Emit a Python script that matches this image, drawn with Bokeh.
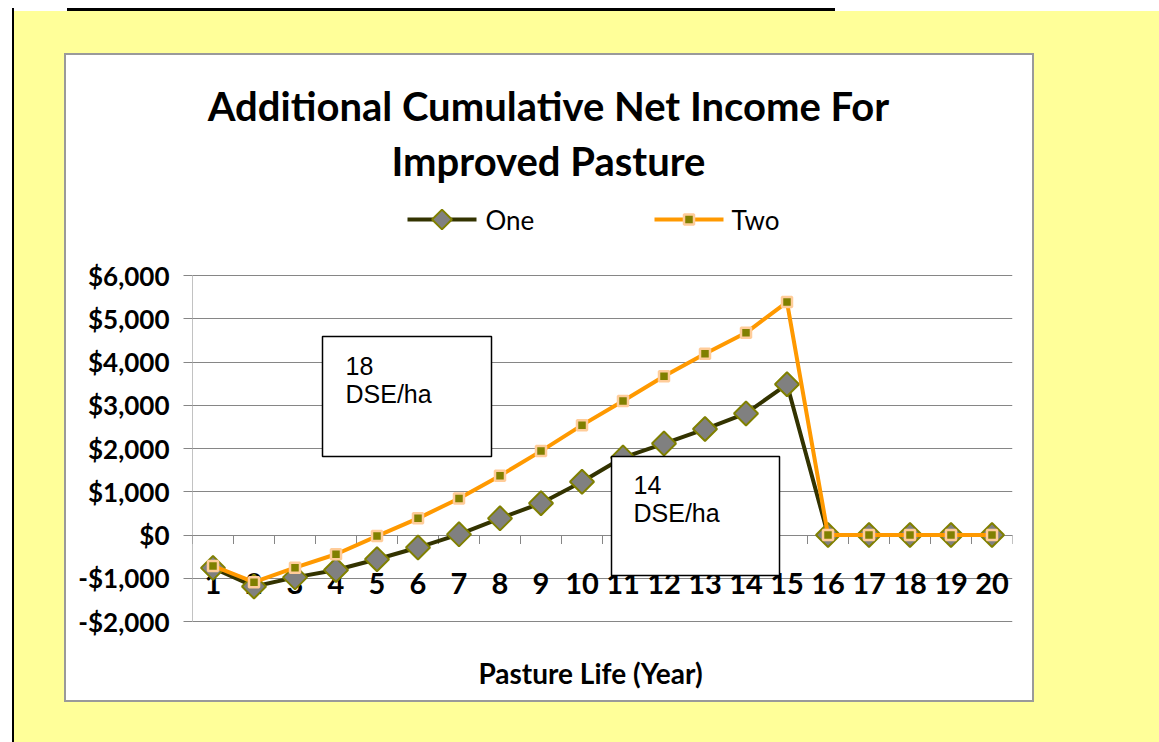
import math

from bokeh.plotting import figure
from bokeh.models import Range1d, FixedTicker, BoxAnnotation, Label
from bokeh.embed import file_html
from bokeh.resources import INLINE
from bokeh.core.properties import value

# ---- data -------------------------------------------------------------
years = list(range(1, 21))
one = [-760, -1190, -980, -810, -560, -290, 15, 385, 735, 1230,
       1790, 2115, 2450, 2810, 3485, 0, 0, 0, 0, 0]
two = [-715, -1090, -755, -445, -25, 385, 845, 1370, 1940, 2540,
       3100, 3670, 4190, 4675, 5385, 0, 0, 0, 0, 0]
y_ticks = [-2000, -1000, 0, 1000, 2000, 3000, 4000, 5000, 6000]
y_tick_labels = ["-$2,000", "-$1,000", "$0", "$1,000", "$2,000",
                 "$3,000", "$4,000", "$5,000", "$6,000"]
x_labels = [str(y) for y in years]
series_names = ["One", "Two"]
title_lines = ["Additional Cumulative Net Income For", "Improved Pasture"]
x_title = "Pasture Life (Year)"
notes = [("18", "DSE/ha"), ("14", "DSE/ha")]

# ---- layout (pixels) ----------------------------------------------------
W, H = 1159, 742
PLOT_L, PLOT_R = 192, 1012      # left / right edge of the plotting area
PLOT_T, PLOT_B = 275, 621       # pixel rows of the top and bottom ticks
GRID = "#868686"
FONT = "Lato"

# series styles
STYLE_ONE = dict(line="#333300", marker_fill="#808080", marker_line="#808000")
STYLE_TWO = dict(line="#FF9900", marker_fill="#808000", marker_line="#FFCC99")

# the frame spans the full height so titles, legend and notes can sit in it;
# the value range is widened so the tick span lands on PLOT_T..PLOT_B
y_lo, y_hi = y_ticks[0], y_ticks[-1]
per_px = (y_hi - y_lo) / (PLOT_B - PLOT_T)
y_range = Range1d(y_lo - (H - PLOT_B) * per_px, y_hi + PLOT_T * per_px)
x_range = Range1d(years[0] - 0.5, years[-1] + 0.5)
x_per_px = (x_range.end - x_range.start) / (PLOT_R - PLOT_L)


def at(px, py):
    """Canvas pixel position -> data coordinates of this frame."""
    return (x_range.start + (px - PLOT_L) * x_per_px,
            y_range.end - py * per_px)


p = figure(width=W, height=H, output_backend="svg", toolbar_location=None,
           title=None, x_range=x_range, y_range=y_range,
           x_axis_location=None,
           min_border_left=PLOT_L, min_border_right=W - PLOT_R,
           min_border_top=0, min_border_bottom=0)
p.outline_line_color = None
p.background_fill_color = None
p.border_fill_color = None

# page backdrop: yellow sheet with black rules and the white chart area
p.styles = {
    "background": ", ".join([
        "linear-gradient(#000,#000) 67px 8px / 768px 3px no-repeat",
        "linear-gradient(#000,#000) 12px 8px / 2px 734px no-repeat",
        "linear-gradient(#fff,#fff) 66px 55px / 966px 645px no-repeat",
        "linear-gradient(#9a9a9a,#9a9a9a) 64px 53px / 970px 649px no-repeat",
        "linear-gradient(#FFFF99,#FFFF99) 14px 11px / 1145px 731px no-repeat #ffffff",
    ])
}

# grid and value axis
p.xgrid.visible = False
p.ygrid.ticker = FixedTicker(ticks=y_ticks)
p.ygrid.grid_line_color = GRID
p.ygrid.grid_line_width = 1

ax = p.yaxis[0]
ax.ticker = FixedTicker(ticks=y_ticks)
ax.major_label_overrides = dict(zip(y_ticks, y_tick_labels))
ax.axis_line_color = None
ax.major_tick_line_color = GRID
ax.major_tick_out = 9
ax.major_tick_in = 0
ax.minor_tick_line_color = None
ax.major_label_standoff = 14
ax.major_label_text_font = FONT
ax.major_label_text_font_style = "bold"
ax.major_label_text_font_size = "26px"
ax.major_label_text_color = "black"

# axis line limited to the tick span
p.segment(x0=[x_range.start], y0=[y_lo], x1=[x_range.start], y1=[y_hi],
          line_color=GRID, line_width=1)

# category axis crossing at zero: tick marks between categories
bounds = [y - 0.5 for y in years] + [years[-1] + 0.5]
p.ray(x=bounds, y=[0] * len(bounds), length=9, length_units="screen",
      angle=-math.pi / 2, line_color=GRID, line_width=1)
p.text(x=years, y=[0] * len(years), text=x_labels, y_offset=48,
       text_align="center", text_baseline="middle",
       text_font=value(FONT), text_font_style="bold",
       text_font_size="29px", text_color="black")


def draw_one(xs, ys, size=17):
    p.line(xs, ys, line_color=STYLE_ONE["line"], line_width=4)
    p.scatter(xs, ys, marker="square", angle=math.pi / 4, size=size,
              fill_color=STYLE_ONE["marker_fill"],
              line_color=STYLE_ONE["marker_line"], line_width=2)


def draw_two(xs, ys, size=10):
    p.line(xs, ys, line_color=STYLE_TWO["line"], line_width=4)
    p.scatter(xs, ys, marker="square", size=size,
              fill_color=STYLE_TWO["marker_fill"],
              line_color=STYLE_TWO["marker_line"], line_width=2.5)


# series
draw_one(years, one)
draw_two(years, two)

# legend: line swatch with its marker, then the series name
for (x0, x1, tx), name, draw, msize in zip(
        [(407, 476, 485), (654, 723, 731)], series_names,
        [draw_one, draw_two], [14, 10]):
    (ax0, ly), (ax1, _) = at(x0, 219), at(x1, 219)
    draw([ax0, ax1], [ly, ly], size=0)
    draw([(ax0 + ax1) / 2], [ly], size=msize)
    p.add_layout(Label(x=tx, y=219, x_units="canvas", y_units="canvas",
                       text=name, text_align="left", text_baseline="middle",
                       text_font=FONT, text_font_size="26px",
                       text_color="black"))

# titles
for text, cy in zip(title_lines, [105, 160]):
    p.add_layout(Label(x=548, y=cy, x_units="canvas", y_units="canvas",
                       text=text, text_align="center", text_baseline="middle",
                       text_font=FONT, text_font_style="bold",
                       text_font_size="40px", text_color="black"))
p.add_layout(Label(x=590, y=672, x_units="canvas", y_units="canvas",
                   text=x_title, text_align="center", text_baseline="middle",
                   text_font=FONT, text_font_style="bold",
                   text_font_size="28px", text_color="black"))

# stocking-rate text boxes
for (l, r, t, b), (tx, ty), (a, c) in zip(
        [(322, 491, 336, 456), (611, 779, 456, 575)],
        [(345, 365), (633, 484)], notes):
    p.add_layout(BoxAnnotation(left=l, right=r, top=t, bottom=b,
                               left_units="canvas", right_units="canvas",
                               top_units="canvas", bottom_units="canvas",
                               fill_color="white", fill_alpha=1,
                               line_color="black", line_alpha=1,
                               line_width=1.5))
    for k, s in enumerate((a, c)):
        p.add_layout(Label(x=tx, y=ty + 28 * k, x_units="canvas",
                           y_units="canvas", text=s, text_align="left",
                           text_baseline="middle",
                           text_font="Liberation Sans",
                           text_font_size="25px", text_color="black"))

open("out.html", "w").write(file_html(p, INLINE))
